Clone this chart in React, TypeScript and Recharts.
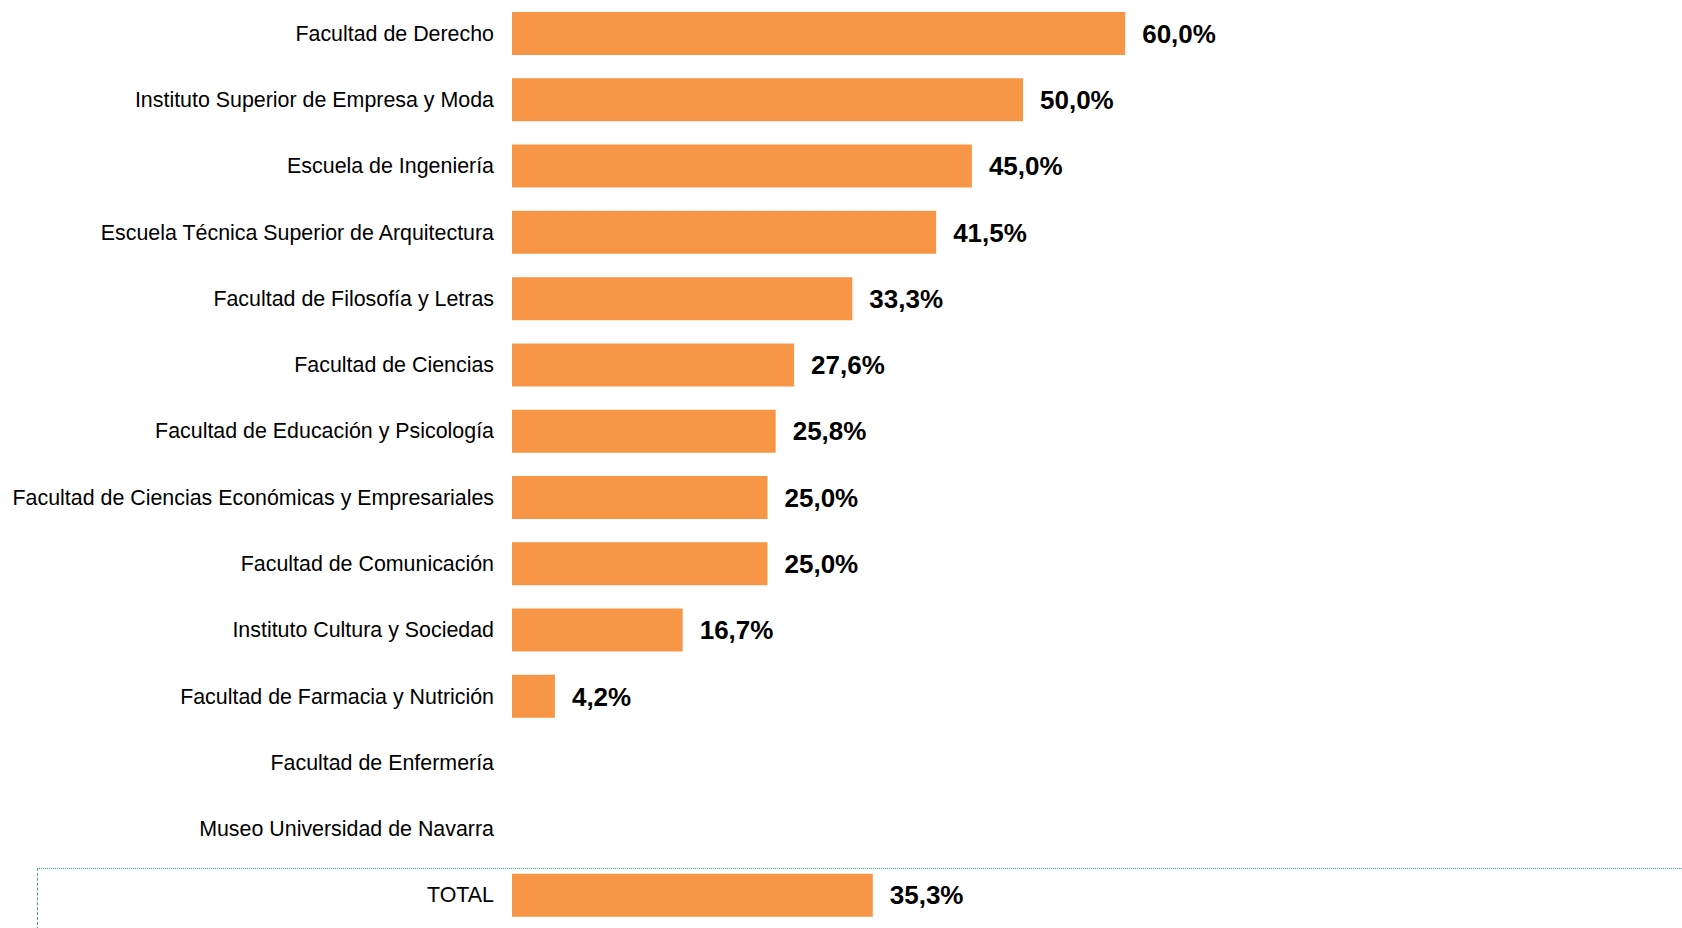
import React from "react";
import { BarChart, Bar, XAxis, YAxis, LabelList } from "recharts";

const categories: string[] = [
  "Facultad de Derecho",
  "Instituto Superior de Empresa y Moda",
  "Escuela de Ingeniería",
  "Escuela Técnica Superior de Arquitectura",
  "Facultad de Filosofía y Letras",
  "Facultad de Ciencias",
  "Facultad de Educación y Psicología",
  "Facultad de Ciencias Económicas y Empresariales",
  "Facultad de Comunicación",
  "Instituto Cultura y Sociedad",
  "Facultad de Farmacia y Nutrición",
  "Facultad de Enfermería",
  "Museo Universidad de Navarra",
  "TOTAL",
];

const values: (number | null)[] = [
  60.0, 50.0, 45.0, 41.5, 33.3, 27.6, 25.8, 25.0, 25.0, 16.7, 4.2, null, null, 35.3,
];

const data = categories.map((name, i) => ({ name, value: values[i] }));

const fmt = (v: any) =>
  v === null || v === undefined ? "" : `${Number(v).toFixed(1).replace(".", ",")}%`;

export default function App() {
  return (
    <div
      style={{
        position: "absolute",
        left: 0,
        top: 0,
        width: 1682,
        height: 928,
        overflow: "hidden",
        background: "#fff",
        fontFamily: "'Liberation Sans', Arial, sans-serif",
      }}
    >
      <BarChart
        width={1682}
        height={928}
        data={data}
        layout="vertical"
        margin={{ top: 0, right: 148, bottom: 0, left: 0 }}
      >
        <XAxis type="number" domain={[0, 100]} hide />
        <YAxis
          type="category"
          dataKey="name"
          width={512}
          axisLine={false}
          tickLine={false}
          tickMargin={12}
          interval={0}
          tick={{ fill: "#000", fontSize: 21.4, fontFamily: "'Liberation Sans', Arial, sans-serif" }}
        />
        <Bar dataKey="value" fill="#F79646" barSize={43} isAnimationActive={false}>
          <LabelList
            dataKey="value"
            position="right"
            offset={17}
            formatter={fmt}
            style={{
              fill: "#000",
              fontSize: 26,
              fontWeight: "bold",
              fontFamily: "'Liberation Sans', Arial, sans-serif",
            }}
          />
        </Bar>
      </BarChart>
      <div
        style={{
          position: "absolute",
          left: 37,
          top: 868,
          width: 1700,
          height: 100,
          borderTop: "1px dotted #3E9BBF",
          borderLeft: "1px dashed #3E9BBF",
          pointerEvents: "none",
        }}
      />
    </div>
  );
}
